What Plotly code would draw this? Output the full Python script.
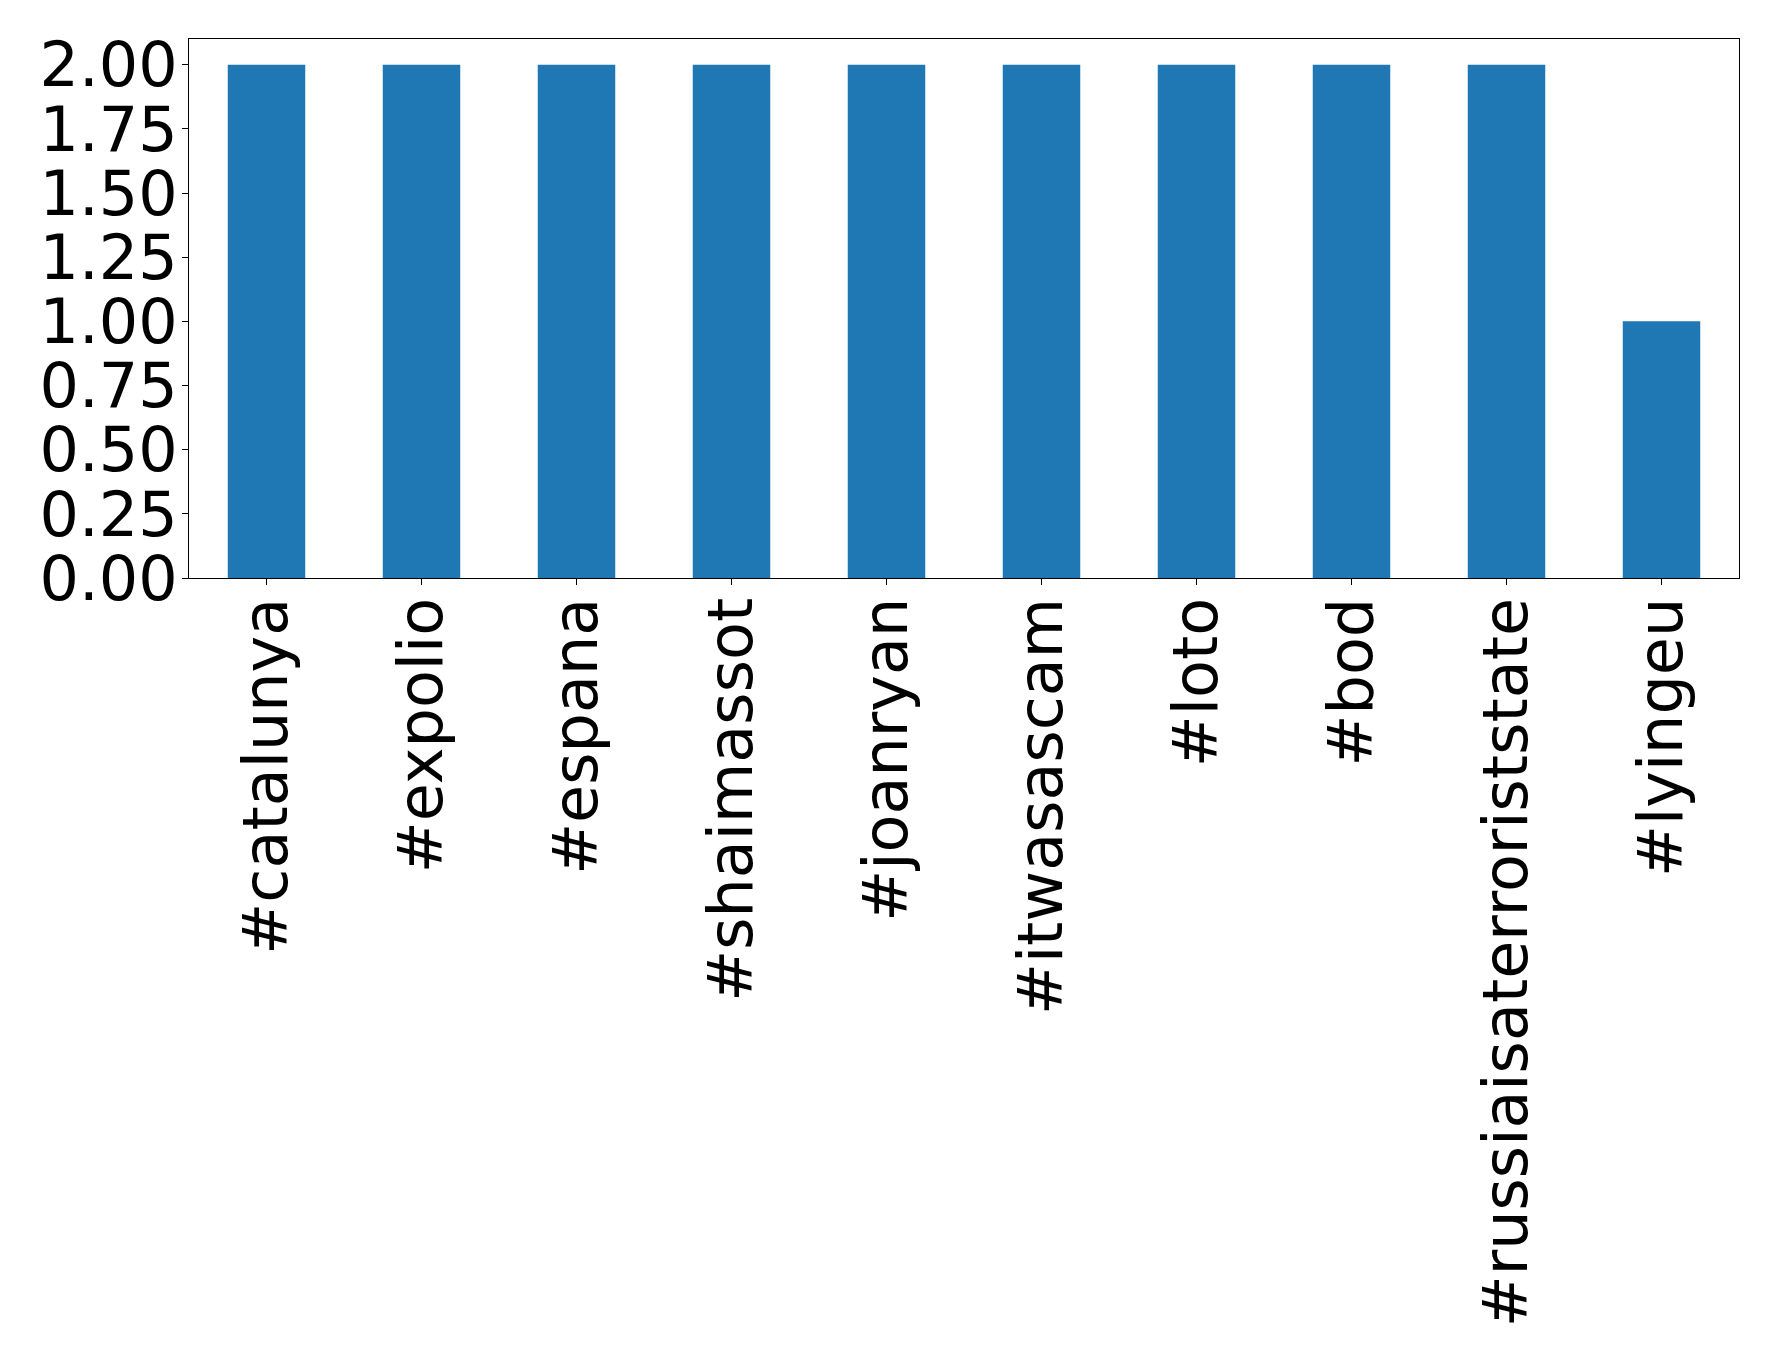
import plotly.graph_objects as go

categories = ["#catalunya", "#expolio", "#espana", "#shaimassot", "#joanryan",
              "#itwasascam", "#loto", "#bod", "#russiaisaterroriststate", "#lyingeu"]
counts = [2, 2, 2, 2, 2, 2, 2, 2, 2, 1]
y_ticks = [0, 0.25, 0.5, 0.75, 1.0, 1.25, 1.5, 1.75, 2.0]

fig = go.Figure(go.Bar(x=categories, y=counts, marker_color="#1f77b4",
                       marker_line_width=0, width=0.5))

font = dict(family="DejaVu Sans", size=62, color="black")
fig.update_layout(
    width=1770, height=1355,
    margin=dict(l=181, r=39, t=31, b=785, pad=0),
    plot_bgcolor="white", paper_bgcolor="white",
    showlegend=False,
    font=font,
)
fig.update_xaxes(
    type="category", range=[-0.5, 9.5], tickangle=-90,
    ticks="outside", ticklen=6, tickcolor="black", tickwidth=1,
    showline=True, linecolor="black", linewidth=1, mirror=True,
    showgrid=False, tickfont=font, ticklabelstandoff=-12,
)
fig.update_yaxes(
    range=[0, 2.1], tickvals=y_ticks, tickformat=".2f",
    ticks="outside", ticklen=6, tickcolor="black", tickwidth=1,
    showline=True, linecolor="black", linewidth=1, mirror=True,
    showgrid=False, zeroline=False, tickfont=font, ticklabelstandoff=-8,
)
fig.write_html("out.html")
